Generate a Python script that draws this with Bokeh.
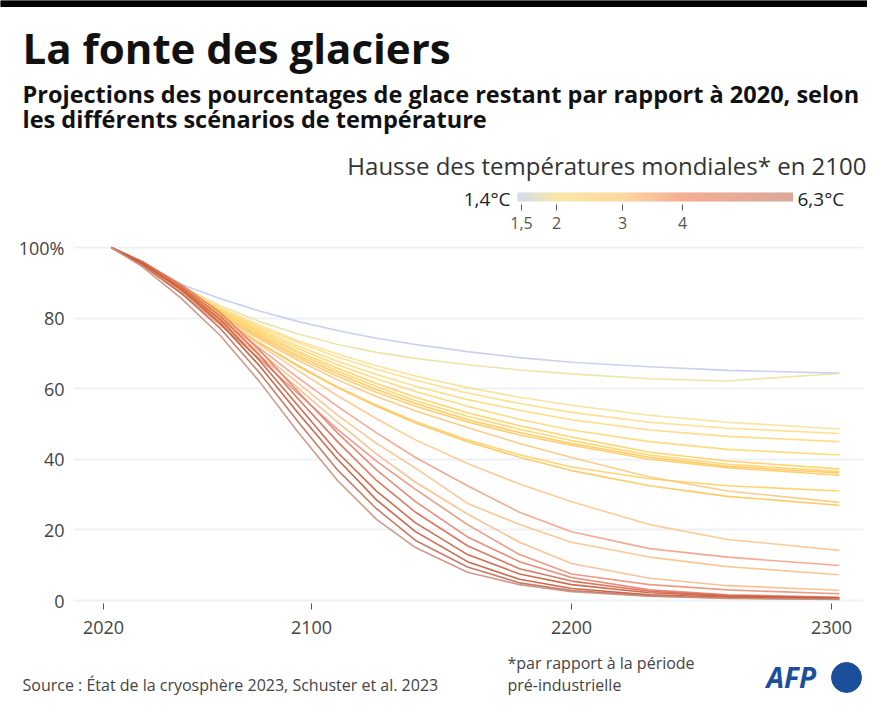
from bokeh.plotting import figure
from bokeh.models import Range1d, FixedTicker, Label
from bokeh.layouts import column
from bokeh.embed import file_html
from bokeh.resources import INLINE

# ---------------- data ----------------
YEARS = [2023, 2035, 2050, 2065, 2080, 2095, 2110, 2125, 2140, 2160, 2180, 2200, 2230, 2260, 2303]

# temperature rise in 2100 (°C) for each scenario line
TEMPS = [1.4, 1.9, 2.2, 2.4, 2.5, 2.6, 2.8, 2.7, 3.0, 2.9, 2.8, 3.2, 3.0,
         3.3, 4.0, 3.5, 3.7, 4.3,
         4.6, 5.0, 5.3, 5.6, 6.0, 6.3]

S01 = [100, 95.5, 89.5, 85.5, 82, 79, 76.5, 74.3, 72.5, 70.5, 68.8, 67.5, 66.2, 65.2, 64.4]
S02 = [100, 95.5, 89, 83.5, 79, 75.5, 72.5, 70.3, 68.6, 66.8, 65.3, 64.2, 62.8, 62.2, 64.3]
S03 = [100, 95.5, 89, 83, 78, 73.5, 69.8, 66.5, 63.6, 60.3, 57.6, 55.3, 52.5, 50.5, 48.6]
S04 = [100, 95.5, 88.5, 82.5, 77.5, 73, 69, 65.5, 62.4, 58.8, 55.8, 53.3, 50.5, 48.8, 47.3]
S05 = [100, 95.5, 88.5, 82.5, 77, 72, 67.8, 64, 60.7, 56.9, 53.9, 51.2, 48.3, 46.5, 45.0]
S06 = [100, 95.5, 88.5, 82, 76.5, 71.3, 66.8, 62.8, 59.2, 55, 51.3, 48.3, 45, 42.8, 41.2]
S07 = [100, 95.5, 88.5, 82, 76, 70.5, 65.8, 61.5, 57.6, 53.2, 49.5, 46.3, 42, 39.5, 37.3]
S08 = [100, 95.5, 88, 81.5, 75.5, 70, 65, 60.6, 56.6, 52.2, 48.5, 45.3, 41.2, 38.6, 36.5]
S09 = [100, 95, 88, 81, 75, 69.3, 64.3, 59.8, 55.8, 51.3, 47.6, 44.5, 40.6, 38, 36.1]
S10 = [100, 95, 88, 81, 74.5, 68.7, 63.5, 59, 55, 50.6, 46.9, 44, 40, 37.6, 35.5]
S11 = [100, 95, 87.5, 80, 73, 66.5, 60.5, 55.3, 50.7, 45.5, 41.3, 37.8, 34.5, 32.5, 31.0]
S12 = [100, 95, 88, 80.5, 74, 68, 62.5, 57.8, 53.7, 49, 44.5, 40.5, 35, 31, 27.8]
S13 = [100, 95, 87.5, 80, 73, 66.3, 60.3, 55, 50.3, 45, 40.6, 36.8, 32.5, 29.5, 27.0]
S14 = [100, 95, 87.5, 80, 72.5, 65, 58, 51.5, 45.5, 38.8, 33, 28, 21.5, 17.3, 14.2]
S15 = [100, 95, 87.5, 79.5, 71.5, 63, 55, 47.5, 40.5, 32.5, 25, 19.5, 14.7, 12.3, 9.9]
S16 = [100, 95, 87, 79, 70.5, 61.5, 52.5, 44.5, 37.5, 27.5, 21.5, 16.5, 12.3, 9.6, 7.3]
S17 = [100, 95, 87, 78.5, 69.5, 60, 50.5, 41.5, 33.5, 24.5, 16.5, 10.5, 6.3, 4.2, 2.9]
S18 = [100, 95, 87, 78, 68.5, 58.5, 48.5, 39.5, 31.5, 21.5, 13, 7.5, 4.5, 3, 1.9]
S19 = [100, 96, 89.5, 81.5, 71, 59, 47.5, 37, 28, 18, 11, 6.5, 3, 1.6, 0.9]
S20 = [100, 96, 89, 80.5, 69.5, 57, 45, 34, 25, 15.5, 9, 5.5, 2.6, 1.4, 0.8]
S21 = [100, 95.5, 88.5, 79.5, 68, 55, 42, 31, 22, 13, 7.5, 4.5, 2.2, 1.2, 0.7]
S22 = [100, 95.5, 88, 78.5, 66.5, 53, 40, 28.5, 19.5, 11, 6, 3.4, 1.6, 0.9, 0.5]
S23 = [100, 95, 87, 77, 64.5, 50.5, 37, 26, 17, 9.5, 5, 2.8, 1.3, 0.7, 0.4]
S24 = [100, 94.5, 85.5, 75, 62, 47.5, 34, 23, 15, 8, 4.5, 2.5, 1.2, 0.6, 0.3]

SERIES = [S01, S02, S03, S04, S05, S06, S07, S08, S09, S10, S11, S12, S13,
          S14, S15, S16, S17, S18, S19, S20, S21, S22, S23, S24]

X_TICKS = [2020, 2100, 2200, 2300]
Y_TICKS = [0, 20, 40, 60, 80, 100]
Y_LABELS = {0: "0", 20: "20", 40: "40", 60: "60", 80: "80", 100: "100%"}
LEGEND_TICK_VALUES = [1.5, 2.0, 3.0, 4.0]
LEGEND_TICKS = ["1,5", "2", "3", "4"]
LEGEND_MIN = "1,4°C"
LEGEND_MAX = "6,3°C"

TITLE = "La fonte des glaciers"
SUBTITLE_1 = "Projections des pourcentages de glace restant par rapport à 2020, selon"
SUBTITLE_2 = "les différents scénarios de température"
LEGEND_TITLE = "Hausse des températures mondiales* en 2100"
SOURCE = "Source : État de la cryosphère 2023, Schuster et al. 2023"
NOTE_1 = "*par rapport à la période"
NOTE_2 = "pré-industrielle"
LOGO = "AFP"

# ---------------- style helpers ----------------
FONT = "Open Sans"
W = 867
HEAD_H, MAIN_H, FOOT_H = 234, 410, 53
FL, FR, FT, FB = 73, 863, 246, 603        # main frame edges (page pixels)
X2020, PX_YEAR = 103, 2.6                 # x pixel of 2020 and pixels per year
Y0, PX_PCT = 600, 3.53                    # y pixel of 0 % and pixels per %


def hex_rgb(h):
    h = h.lstrip("#")
    return tuple(int(h[i:i + 2], 16) for i in (0, 2, 4))


def interp(stops, t):
    if t <= stops[0][0]:
        return stops[0][1]
    for (t0, c0), (t1, c1) in zip(stops[:-1], stops[1:]):
        if t0 <= t <= t1:
            f = (t - t0) / (t1 - t0)
            a, b = hex_rgb(c0), hex_rgb(c1)
            r = [round(a[i] + (b[i] - a[i]) * f) for i in range(3)]
            return "#%02x%02x%02x" % tuple(r)
    return stops[-1][1]


LINE_STOPS = [(1.4, "#c3cbef"), (1.9, "#eee0a0"), (2.3, "#fde08a"), (2.7, "#ffd466"),
              (3.0, "#fec55a"), (3.3, "#fdc788"), (3.7, "#fabb8a"), (4.0, "#f3a088"),
              (4.5, "#e88470"), (5.0, "#d9694f"), (5.5, "#c4532f"), (6.0, "#c26e58"),
              (6.3, "#c9907f")]

# legend bar: temperature -> pixel position of the (nonlinear) scale
LEG_POS = [(1.4, 517), (1.5, 521), (2.0, 556), (3.0, 622), (4.0, 682), (6.3, 792)]
LEG_COLS = [(517, "#d2d8ec"), (556, "#f7e9a9"), (622, "#fdd8a0"), (682, "#f5ad93"), (792, "#dba89b")]


def leg_x(t):
    for (t0, x0), (t1, x1) in zip(LEG_POS[:-1], LEG_POS[1:]):
        if t0 <= t <= t1:
            return x0 + (x1 - x0) * (t - t0) / (t1 - t0)
    return LEG_POS[-1][1]


def no_align(fig):
    try:
        fig.frame_align = False
    except Exception:
        pass
    return fig


def panel(top, height):
    f = figure(width=W, height=height, x_range=Range1d(0, W), y_range=Range1d(top + height, top),
               x_axis_location=None, y_axis_location=None, toolbar_location=None,
               output_backend="svg", min_border=0)
    f.xgrid.visible = False
    f.ygrid.visible = False
    f.outline_line_color = None
    f.background_fill_color = "white"
    f.border_fill_color = "white"
    return no_align(f)


def label(f, x, y, text, size, color="#222222", style="normal", align="left", font=FONT):
    f.add_layout(Label(x=x, y=y, text=text, text_font=font, text_font_size=size,
                       text_font_style=style, text_color=color, text_align=align,
                       text_baseline="middle"))


# ---------------- header ----------------
head = panel(0, HEAD_H)
head.quad(left=[0], right=[W], top=[0], bottom=[6], color="#000000")
label(head, 22, 47, TITLE, "42px", "#111111", "bold")
label(head, 22, 93.5, SUBTITLE_1, "23.5px", "#111111", "bold")
label(head, 22, 118, SUBTITLE_2, "23.5px", "#111111", "bold")
label(head, 866, 165, LEGEND_TITLE, "24px", "#333333", align="right")
label(head, 510, 198, LEGEND_MIN, "19px", "#222222", align="right")
label(head, 797, 198, LEGEND_MAX, "19px", "#222222", align="left")

N = 120
x0, x1 = LEG_POS[0][1], LEG_POS[-1][1]
lefts = [x0 + (x1 - x0) * i / N for i in range(N)]
rights = [x0 + (x1 - x0) * (i + 1) / N + 0.6 for i in range(N)]
cols = [interp(LEG_COLS, (l + r) / 2) for l, r in zip(lefts, rights)]
head.quad(left=lefts, right=rights, top=[192] * N, bottom=[201] * N, color=cols, line_color=None)
tx = [leg_x(t) for t in LEGEND_TICK_VALUES]
head.segment(x0=tx, y0=[204] * 4, x1=tx, y1=[210] * 4, line_color="#555555", line_width=1)
for x, t in zip(tx, LEGEND_TICKS):
    label(head, x, 222.5, t, "16px", "#555555", align="center")

# ---------------- main chart ----------------
xr = Range1d(2020 + (FL - X2020) / PX_YEAR, 2020 + (FR - X2020) / PX_YEAR)
yr = Range1d((Y0 - FB) / PX_PCT, (Y0 - FT) / PX_PCT)
p = figure(width=W, height=MAIN_H, x_range=xr, y_range=yr, toolbar_location=None,
           output_backend="svg", min_border_left=FL, min_border_right=W - FR,
           min_border_top=FT - HEAD_H, min_border_bottom=HEAD_H + MAIN_H - FB)
no_align(p)
p.outline_line_color = None
p.background_fill_color = "white"
p.border_fill_color = "white"
p.xgrid.visible = False
p.ygrid.ticker = FixedTicker(ticks=Y_TICKS)
p.ygrid.grid_line_color = "#edf1f4"
p.ygrid.grid_line_width = 2

p.xaxis.ticker = FixedTicker(ticks=X_TICKS)
p.xaxis.axis_line_color = None
p.xaxis.major_tick_out = 6
p.xaxis.major_tick_in = 0
p.xaxis.minor_tick_line_color = None
p.xaxis.major_tick_line_color = "#555555"
p.xaxis.major_label_text_font = FONT
p.xaxis.major_label_text_font_size = "18px"
p.xaxis.major_label_text_color = "#444444"
p.xaxis.major_label_standoff = 11

p.yaxis.ticker = FixedTicker(ticks=Y_TICKS)
p.yaxis.major_label_overrides = Y_LABELS
p.yaxis.axis_line_color = None
p.yaxis.major_tick_line_color = None
p.yaxis.minor_tick_line_color = None
p.yaxis.major_tick_out = 0
p.yaxis.major_tick_in = 0
p.yaxis.major_label_text_font = FONT
p.yaxis.major_label_text_font_size = "18px"
p.yaxis.major_label_text_color = "#444444"
p.yaxis.major_label_standoff = 9

for t, s in zip(TEMPS, SERIES):
    p.line(YEARS, s, line_color=interp(LINE_STOPS, t), line_width=1.6, line_alpha=0.9)

# ---------------- footer ----------------
foot = panel(HEAD_H + MAIN_H, FOOT_H)
label(foot, 22, 684, SOURCE, "16px", "#444444")
label(foot, 507, 662, NOTE_1, "16px", "#444444")
label(foot, 507, 684, NOTE_2, "16px", "#444444")
label(foot, 766, 676, LOGO, "28px", "#1b4f9c", "bold italic")
foot.scatter(x=[846], y=[677], size=30, marker="circle", color="#1b4f9c")

layout = column(head, p, foot, spacing=0)
open("out.html", "w").write(file_html(layout, INLINE))
